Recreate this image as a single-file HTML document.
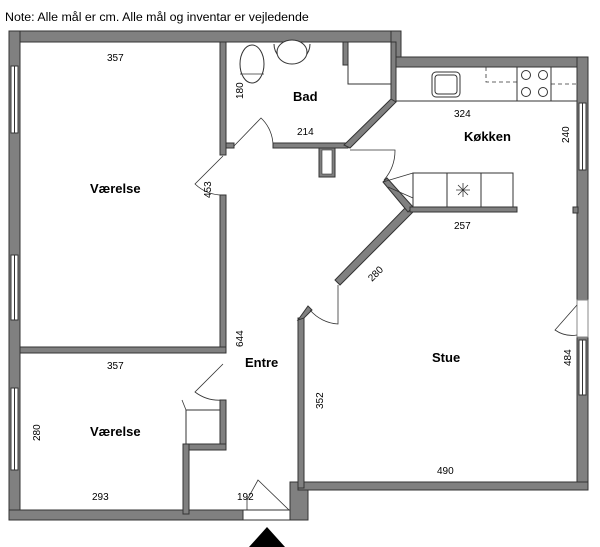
<!DOCTYPE html><html><head><meta charset="utf-8"><style>
body{margin:0;background:#fff}
svg{display:block}
text{font-family:"Liberation Sans",sans-serif;fill:#000}
.d{font-size:10px}
.r{font-size:13px;font-weight:bold}
</style></head><body>
<svg width="600" height="547" viewBox="0 0 600 547">
<text x="5" y="21" style="font-size:12.4px">Note: Alle mål er cm. Alle mål og inventar er vejledende</text>
<g fill="#808080" stroke="#333" stroke-width="1">
<rect x="9" y="31" width="392" height="11"/>
<rect x="391" y="31" width="10" height="36"/>
<rect x="391" y="57" width="197" height="10"/>
<rect x="9" y="31" width="11" height="489"/>
<rect x="577" y="57" width="11" height="433"/>
<rect x="573" y="207" width="5" height="6"/>
<rect x="9" y="510" width="234" height="10"/>
<rect x="290" y="482" width="18" height="38"/>
<rect x="298" y="482" width="290" height="8"/>
<rect x="298" y="318" width="6" height="170"/>
<rect x="220" y="42" width="6" height="113"/>
<rect x="220" y="195" width="6" height="158"/>
<rect x="20" y="347" width="206" height="6"/>
<rect x="220" y="400" width="6" height="50"/>
<rect x="183" y="444" width="43" height="6"/>
<rect x="183" y="444" width="6" height="70"/>
<rect x="226" y="143" width="8" height="5"/>
<rect x="273" y="143" width="75" height="5"/>
<rect x="343" y="42" width="5" height="23"/>
<rect x="391" y="42" width="5" height="60"/>
<polygon points="391,99 396,102 350,148 344,145"/>
<rect x="319" y="148" width="16" height="29"/>
<polygon points="406,207 413,212 340,285 335,280"/>
<polygon points="383,182 387,178 413,207 408,212"/>
<rect x="410" y="207" width="107" height="5"/>
<polygon points="298,320 304,318 312,310 308,306"/>
</g>
<rect x="322" y="150" width="10" height="24" fill="#fff" stroke="#333" stroke-width=".6"/>
<g fill="#fff" stroke="#333" stroke-width="1">
<rect x="11" y="66" width="7" height="67"/><line x1="14.5" y1="66" x2="14.5" y2="133"/>
<rect x="11" y="255" width="7" height="65"/><line x1="14.5" y1="255" x2="14.5" y2="320"/>
<rect x="11" y="388" width="7" height="82"/><line x1="14.5" y1="388" x2="14.5" y2="470"/>
<rect x="579" y="103" width="7" height="67"/><line x1="582.5" y1="103" x2="582.5" y2="170"/>
<rect x="579" y="340" width="7" height="55"/><line x1="582.5" y1="340" x2="582.5" y2="395"/>
<rect x="577" y="300" width="11" height="37" stroke="#888"/>
<rect x="243" y="510" width="47" height="10"/>
<rect x="396" y="67" width="181" height="34"/>
<rect x="517" y="67" width="34" height="34"/>
<rect x="348" y="42" width="43" height="42"/>
<rect x="413" y="173" width="100" height="34"/>
<line x1="447" y1="173" x2="447" y2="207"/><line x1="481" y1="173" x2="481" y2="207"/>
<rect x="432" y="72" width="28" height="25" rx="4"/>
<rect x="435" y="75" width="22" height="19" rx="3"/>
<rect x="186" y="410" width="34" height="34"/>
<ellipse cx="252" cy="64" rx="12" ry="19"/>
<path d="M274 44 A18 18 0 0 0 310 44"/>
<ellipse cx="292" cy="52" rx="15" ry="12"/>
<circle cx="526" cy="75" r="4.5"/><circle cx="543" cy="75" r="4.5"/>
<circle cx="526" cy="92" r="4.5"/><circle cx="543" cy="92" r="4.5"/>
</g>
<g fill="none" stroke="#333" stroke-width=".8">
<path d="M486 67 V82 H517 M551 84 H577" stroke-dasharray="4 3"/>
<line x1="240" y1="74" x2="264" y2="74"/>
<path d="M234 146 L261 118 A38 38 0 0 1 273 146"/>
<path d="M223 156 L195 184 A40 40 0 0 0 223 195"/>
<path d="M223 364 L195 392 A40 40 0 0 0 223 400"/>
<path d="M350 150 L395 150 A45 45 0 0 1 384 180"/>
<path d="M338 285 L338 324 A40 40 0 0 1 310 310"/>
<path d="M577 305 L555 330 A30 30 0 0 0 577 335"/>
<path d="M247 510 L247 500 L258 480 L289 510"/>
<path d="M186 410 L182 400"/>
<path d="M383 182 L413 173 M388 187 L413 198"/>
<path d="M456 190 H470 M463 183 V197 M458 185 L468 195 M468 185 L458 195"/>
</g>
<polygon points="249,547 267,527 285,547" fill="#000"/>
<g class="d">
<text x="107" y="61">357</text>
<text x="107" y="369">357</text>
<text x="297" y="135">214</text>
<text x="454" y="117">324</text>
<text x="454" y="229">257</text>
<text x="437" y="474">490</text>
<text x="92" y="500">293</text>
<text x="237" y="500">192</text>
<text transform="translate(243,99) rotate(-90)">180</text>
<text transform="translate(211,198) rotate(-90)">453</text>
<text transform="translate(243,347) rotate(-90)">644</text>
<text transform="translate(40,441) rotate(-90)">280</text>
<text transform="translate(323,409) rotate(-90)">352</text>
<text transform="translate(569,143) rotate(-90)">240</text>
<text transform="translate(571,366) rotate(-90)">484</text>
<text transform="translate(372,282) rotate(-45)">280</text>
</g>
<g class="r">
<text x="293" y="101">Bad</text>
<text x="464" y="141">Køkken</text>
<text x="90" y="193">Værelse</text>
<text x="90" y="436">Værelse</text>
<text x="245" y="367">Entre</text>
<text x="432" y="362">Stue</text>
</g>
</svg>
</body></html>
